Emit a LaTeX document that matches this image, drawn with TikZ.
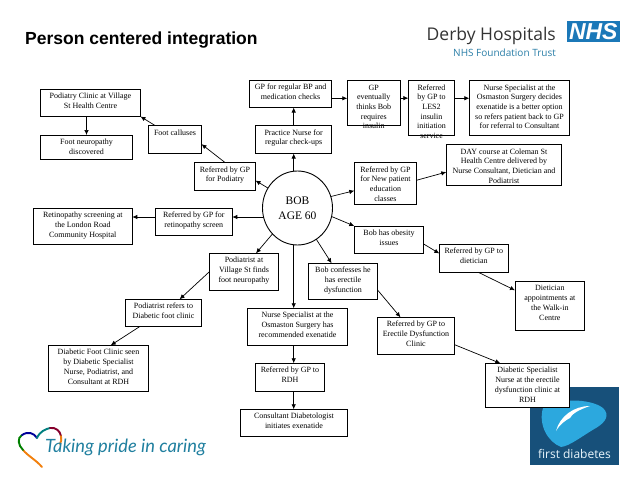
\documentclass[tikz,border=0pt]{standalone}
\usepackage{fontspec}
\setmainfont{Liberation Serif}
\newfontfamily\headfont{Liberation Sans}
\newfontfamily\logofont{Open Sans}
\newfontfamily\pridefont{Lato}
\usetikzlibrary{shapes.geometric,arrows.meta,calc}
\definecolor{nhsblue}{HTML}{1B78B8}
\definecolor{trustblue}{HTML}{2B7FA8}
\definecolor{pridetext}{HTML}{1F7F9F}
\definecolor{fdnavy}{HTML}{17507A}
\definecolor{fdsky}{HTML}{2CA8DE}
\tikzset{
    box/.style={draw, fill=white, line width=0.9pt, inner sep=0pt, outer sep=0pt, anchor=north west},
    flow/.style={-{Latex[length=5pt,width=4.5pt]}, line width=0.7pt},
    hearty/.style={line width=1.9pt, line cap=round},
}
% name, left, top, width, height, lines
\newcommand{\stepbox}[6]{%
    \node[box] (#1) at (#2,#3) {\parbox[t][#5pt][t]{#4pt}{\centering\fontsize{8}{9.7}\selectfont\rule{0pt}{9.6pt}#6}};
}
\begin{document}
\begin{tikzpicture}[x=1pt, y=-1pt]
    \useasboundingbox (0,0) rectangle (638,479);
    \fill[white] (0,0) rectangle (638,479);

    \node[anchor=base west, inner sep=0pt, font=\headfont\bfseries\fontsize{17.5}{19}\selectfont] (title) at (25,45) {Person centered integration};

    % logos
    \node[anchor=base east, inner sep=0pt, text=black!80, font=\logofont\fontsize{17.5}{20}\selectfont] (derby) at (556,40) {Derby Hospitals};
    \node[anchor=base east, inner sep=0pt, text=trustblue, font=\logofont\fontsize{10}{12}\selectfont] (trust) at (556,56.5) {NHS Foundation Trust};
    \node[fill=nhsblue, text=white, inner sep=0pt, minimum width=53.5pt, minimum height=21pt, font=\headfont\bfseries\itshape\fontsize{23}{23}\selectfont] (nhs) at (593.3,31.7) {NHS};

    \fill[fdnavy] (530,386.7) rectangle (618.7,465.3);
    \fill[fdsky] (543,408) .. controls (556,398) and (590,398) .. (603,408) .. controls (610,415) and (606,422) .. (596,428) .. controls (582,436) and (570,446) .. (561,447) .. controls (548,442) and (538,425) .. (543,408) -- cycle;
    \fill[white] (556,431) .. controls (560,416) and (574,406) .. (590,406) .. controls (578,410) and (572,414) .. (570,418) .. controls (566,420) and (560,424) .. (556,431) -- cycle;
    \node[text=white!90!fdsky, inner sep=0pt, font=\logofont\fontsize{12}{14}\selectfont] (firstd) at (574.5,454) {first diabetes};

    \draw[hearty, orange!80!brown] (42,467) .. controls (36,460) and (28,456) .. (23,450);
    \draw[hearty, green!50!black] (23,450) .. controls (18,445) and (17,438) .. (22,435);
    \draw[hearty, blue!60!black] (22,435) .. controls (28,431) and (34,433) .. (37,438);
    \draw[hearty, teal] (37,438) .. controls (40,431) and (46,429) .. (50,428);
    \draw[hearty, purple!70!black] (50,428) .. controls (56,427) and (60,431) .. (61,436);
    \draw[hearty, orange!70!brown] (61,436) .. controls (62,439) and (61,442) .. (60,444);
    \node[anchor=base west, inner sep=0pt, text=pridetext, font=\pridefont\itshape\fontsize{18.3}{20}\selectfont] (pride) at (45,452) {Taking pride in caring};

    % boxes, upper left
    \stepbox{podclinic}{40.5}{89}{100}{27.5}{Podiatry Clinic at Village\\St Health Centre}
    \stepbox{footneuro}{40.5}{135}{92}{24.5}{Foot neuropathy\\discovered}
    \stepbox{callus}{148.5}{125.5}{53}{28}{Foot calluses}
    \stepbox{refpod}{194.5}{162.5}{61}{27.5}{Referred by GP\\for Podiatry}
    \stepbox{retscreen}{33.3}{208.3}{99}{36}{Retinopathy screening at\\the London Road\\Community Hospital}
    \stepbox{refret}{155.3}{208.3}{77}{27.4}{Referred by GP for\\retinopathy screen}

    % boxes, top row
    \stepbox{gpbp}{249.5}{80}{82.2}{27.5}{GP for regular BP and\\medication checks}
    \stepbox{practice}{255.5}{125.5}{76.2}{28}{Practice Nurse for\\regular check-ups}
    \stepbox{gpinsulin}{347.3}{80.5}{53}{45}{GP\\eventually\\thinks Bob\\requires\\insulin}
    \stepbox{les}{408.3}{80.5}{46.4}{55}{Referred\\by GP to\\LES2\\insulin\\initiation\\service}
    \stepbox{nursedec}{469.3}{80.5}{100.4}{55}{Nurse Specialist at the\\Osmaston Surgery decides\\exenatide is a better option\\so refers patient back to GP\\for referral to Consultant}

    % boxes, right
    \stepbox{daycourse}{446.3}{144.5}{115.4}{41}{DAY course at Coleman St\\Health Centre delivered by\\Nurse Consultant, Dietician and\\Podiatrist}
    \stepbox{refnew}{354.3}{162.5}{62.4}{42}{Referred by GP\\for New patient\\education\\classes}
    \stepbox{obesity}{354.3}{226}{69.4}{27.5}{Bob has obesity\\issues}
    \stepbox{refdiet}{439.3}{244.3}{69}{28}{Referred by GP to\\dietician}
    \stepbox{dietappt}{515}{281.3}{69.7}{49}{Dietician\\appointments at\\the Walk-in\\Centre}
    \stepbox{confess}{308.3}{263.3}{69.4}{36.4}{Bob confesses he\\has erectile\\dysfunction}
    \stepbox{refed}{377.3}{317.3}{77.4}{37}{Referred by GP to\\Erectile Dysfunction\\Clinic}
    \stepbox{dsn}{485.3}{363.3}{84.4}{44}{Diabetic Specialist\\Nurse at the erectile\\dysfunction clinic at\\RDH}

    % boxes, lower middle and left
    \stepbox{nurserec}{247.3}{308.3}{100.4}{37}{Nurse Specialist at the\\Osmaston Surgery has\\recommended exenatide}
    \stepbox{refrdh}{255.3}{363.3}{69.4}{28}{Referred by GP to\\RDH}
    \stepbox{consultant}{240.3}{409.3}{107.4}{27}{Consultant Diabetologist\\initiates exenatide}
    \stepbox{podvillage}{209.3}{253.3}{69.4}{37}{Podiatrist at\\Village St finds\\foot neuropathy}
    \stepbox{podrefer}{125.3}{299.3}{76.4}{27}{Podiatrist refers to\\Diabetic foot clinic}
    \stepbox{dfc}{48.3}{345.3}{100.4}{46}{Diabetic Foot Clinic seen\\by Diabetic Specialist\\Nurse, Podiatrist, and\\Consultant at RDH}

    \node[draw, fill=white, ellipse, line width=0.9pt, inner sep=0pt, outer sep=0pt, minimum width=70pt, minimum height=74pt, align=center, font=\fontsize{11.5}{15}\selectfont] (bob) at (297.5,208) {BOB\\AGE 60};

    \coordinate (spine) at (293.7,0);
    \coordinate (retline) at (0,217);

    % connectors
    \draw[flow] (callus.145) -- (podclinic.south east);
    \draw[flow] (footneuro.north |- podclinic.south) -- (footneuro.north);
    \draw[flow] (refpod.north) -- (callus.-10);
    \draw[flow] (bob.146) -- (refpod.-8);
    \draw[flow] (bob.-165 |- retline) -- (refret.east |- retline);
    \draw[flow] (refret.west |- retline) -- (retscreen.east |- retline);
    \draw[flow] (spine |- bob.north) -- (spine |- practice.south);
    \draw[flow] (spine |- practice.north) -- (spine |- gpbp.south);
    \draw[flow] (gpinsulin.170 -| gpbp.east) -- (gpinsulin.170);
    \draw[flow] (les.157 -| gpinsulin.east) -- (les.157);
    \draw[flow] (nursedec.169 -| les.east) -- (nursedec.169);
    \draw[flow] (bob.19) -- (refnew.193);
    \draw[flow] (refnew.6) -- (daycourse.187);
    \draw[flow] (bob.-14) -- (obesity.north west);
    \draw[flow] (obesity.-7) -- (refdiet.172);
    \draw[flow] (refdiet.-72) -- (dietappt.156);
    \draw[flow] (bob.-59) -- (confess.122);
    \draw[flow] (confess.-14) -- (refed.130);
    \draw[flow] (refed.-13) -- (dsn.141);
    \draw[flow] (bob.-134) -- (podvillage.57);
    \draw[flow] (podvillage.west) -- (podrefer.40);
    \draw[flow] (podrefer.210) -- (dfc.62);
    \draw[flow] (spine |- bob.south) -- (spine |- nurserec.north);
    \draw[flow] (spine |- nurserec.south) -- (spine |- refrdh.north);
    \draw[flow] (spine |- refrdh.south) -- (spine |- consultant.north);
\end{tikzpicture}
\end{document}
